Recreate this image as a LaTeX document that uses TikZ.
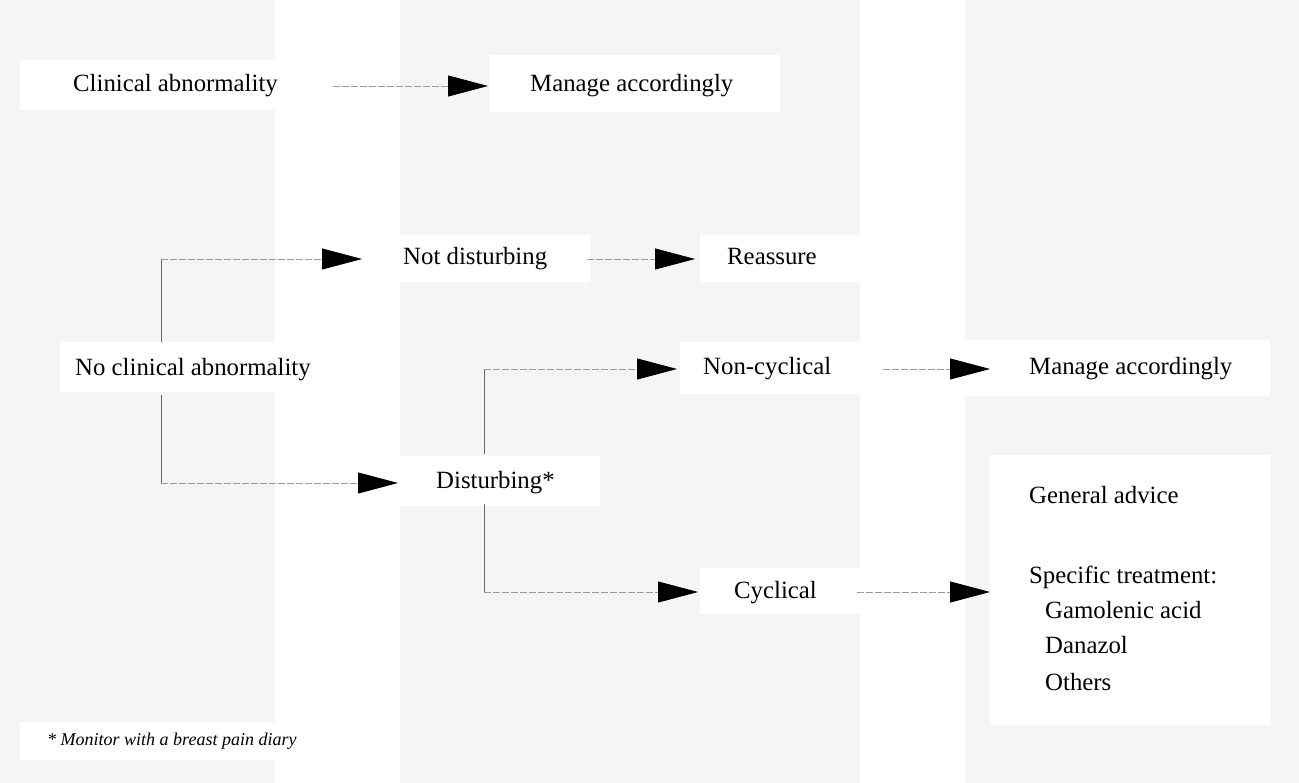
\documentclass[tikz,border=0pt]{standalone}
\usepackage{fontspec}
\setmainfont{Liberation Serif}
\usetikzlibrary{arrows.meta}
\begin{document}
\begin{tikzpicture}[x=1pt,y=-1pt,
  lbl/.style={inner sep=0pt, anchor=west, font=\fontsize{24.8}{28}\selectfont, text height=17pt, text depth=5pt},
  conn/.style={draw=black!40, line width=0.9pt, dash pattern=on 7pt off 2pt},
  vline/.style={draw=black!60, line width=1pt},
  arr/.style={conn, -{Triangle[length=40pt,width=21pt,color=black,fill=black]}},
  tex/.style={fill=black!4},
  clear/.style={fill=white}
]
\useasboundingbox (0,0) rectangle (1299,783);
% textured background panels
\fill[tex] (0,0) rectangle (275,783);
\fill[tex] (400,0) rectangle (860,783);
\fill[tex] (965,0) rectangle (1299,783);
% white cut-outs behind the texts
\fill[clear] (20,60) rectangle (300,110);
\fill[clear] (490,55) rectangle (780,112);
\fill[clear] (60,342) rectangle (330,392);
\fill[clear] (385,235) rectangle (590,282);
\fill[clear] (700,235) rectangle (860,282);
\fill[clear] (680,342) rectangle (860,394);
\fill[clear] (400,456) rectangle (600,506);
\fill[clear] (700,568) rectangle (860,614);
\fill[clear] (960,340) rectangle (1270,396);
\fill[clear] (20,722) rectangle (320,760);

% nodes
\node[lbl] (ca) at (73,86) {Clinical abnormality};
\node[lbl] (ma1) at (530,86) {Manage accordingly};
\node[lbl] (nca) at (75,370) {No clinical abnormality};
\node[lbl] (nd) at (403,259) {Not disturbing};
\node[lbl] (rs) at (727,259) {Reassure};
\node[lbl] (nc) at (703,369) {Non-cyclical};
\node[lbl] (ma2) at (1029,369) {Manage accordingly};
\node[lbl] (dis) at (436,483) {Disturbing*};
\node[lbl] (cyc) at (734,592) {Cyclical};
\node[fill=white, inner sep=0pt, anchor=north west, minimum width=280pt, minimum height=270pt] (tr) at (990,455) {};
\node[lbl] (ga) at (1029,497) {General advice};
\node[lbl] (st) at (1029,577) {Specific treatment:};
\node[lbl] (gam) at (1045,612) {Gamolenic acid};
\node[lbl] (dan) at (1045,647) {Danazol};
\node[lbl] (oth) at (1045,684) {Others};
\node[inner sep=0pt, anchor=west, font=\fontsize{18}{22}\selectfont\itshape] (fn) at (47,741) {* Monitor with a breast pain diary};

% junctions
\coordinate (j1) at (161,259);
\coordinate (j2) at (161,483);
\coordinate (j3) at (484,369);
\coordinate (j4) at (484,592);

% connectors
\draw[arr, shorten <=55pt, shorten >=42pt] (ca) -- (ma1);
\draw[vline, shorten >=17pt] (j1) -- (nca.north -| j1);
\draw[vline, shorten >=14pt] (j2) -- (nca.south -| j2);
\draw[arr, shorten >=41pt] (j1) -- (nd);
\draw[arr, shorten >=38pt] (j2) -- (dis);
\draw[arr, shorten <=40pt, shorten >=32pt] (nd) -- (rs);
\draw[vline, shorten >=18pt] (j3) -- (dis.north -| j3);
\draw[vline, shorten >=10pt] (j4) -- (dis.south -| j4);
\draw[arr, shorten >=26pt] (j3) -- (nc);
\draw[arr, shorten >=36pt] (j4) -- (cyc);
\draw[arr, shorten <=52pt, shorten >=39pt] (nc) -- (ma2);
\draw[arr, shorten <=40pt] (cyc) -- (cyc -| tr.west);
\end{tikzpicture}
\end{document}
